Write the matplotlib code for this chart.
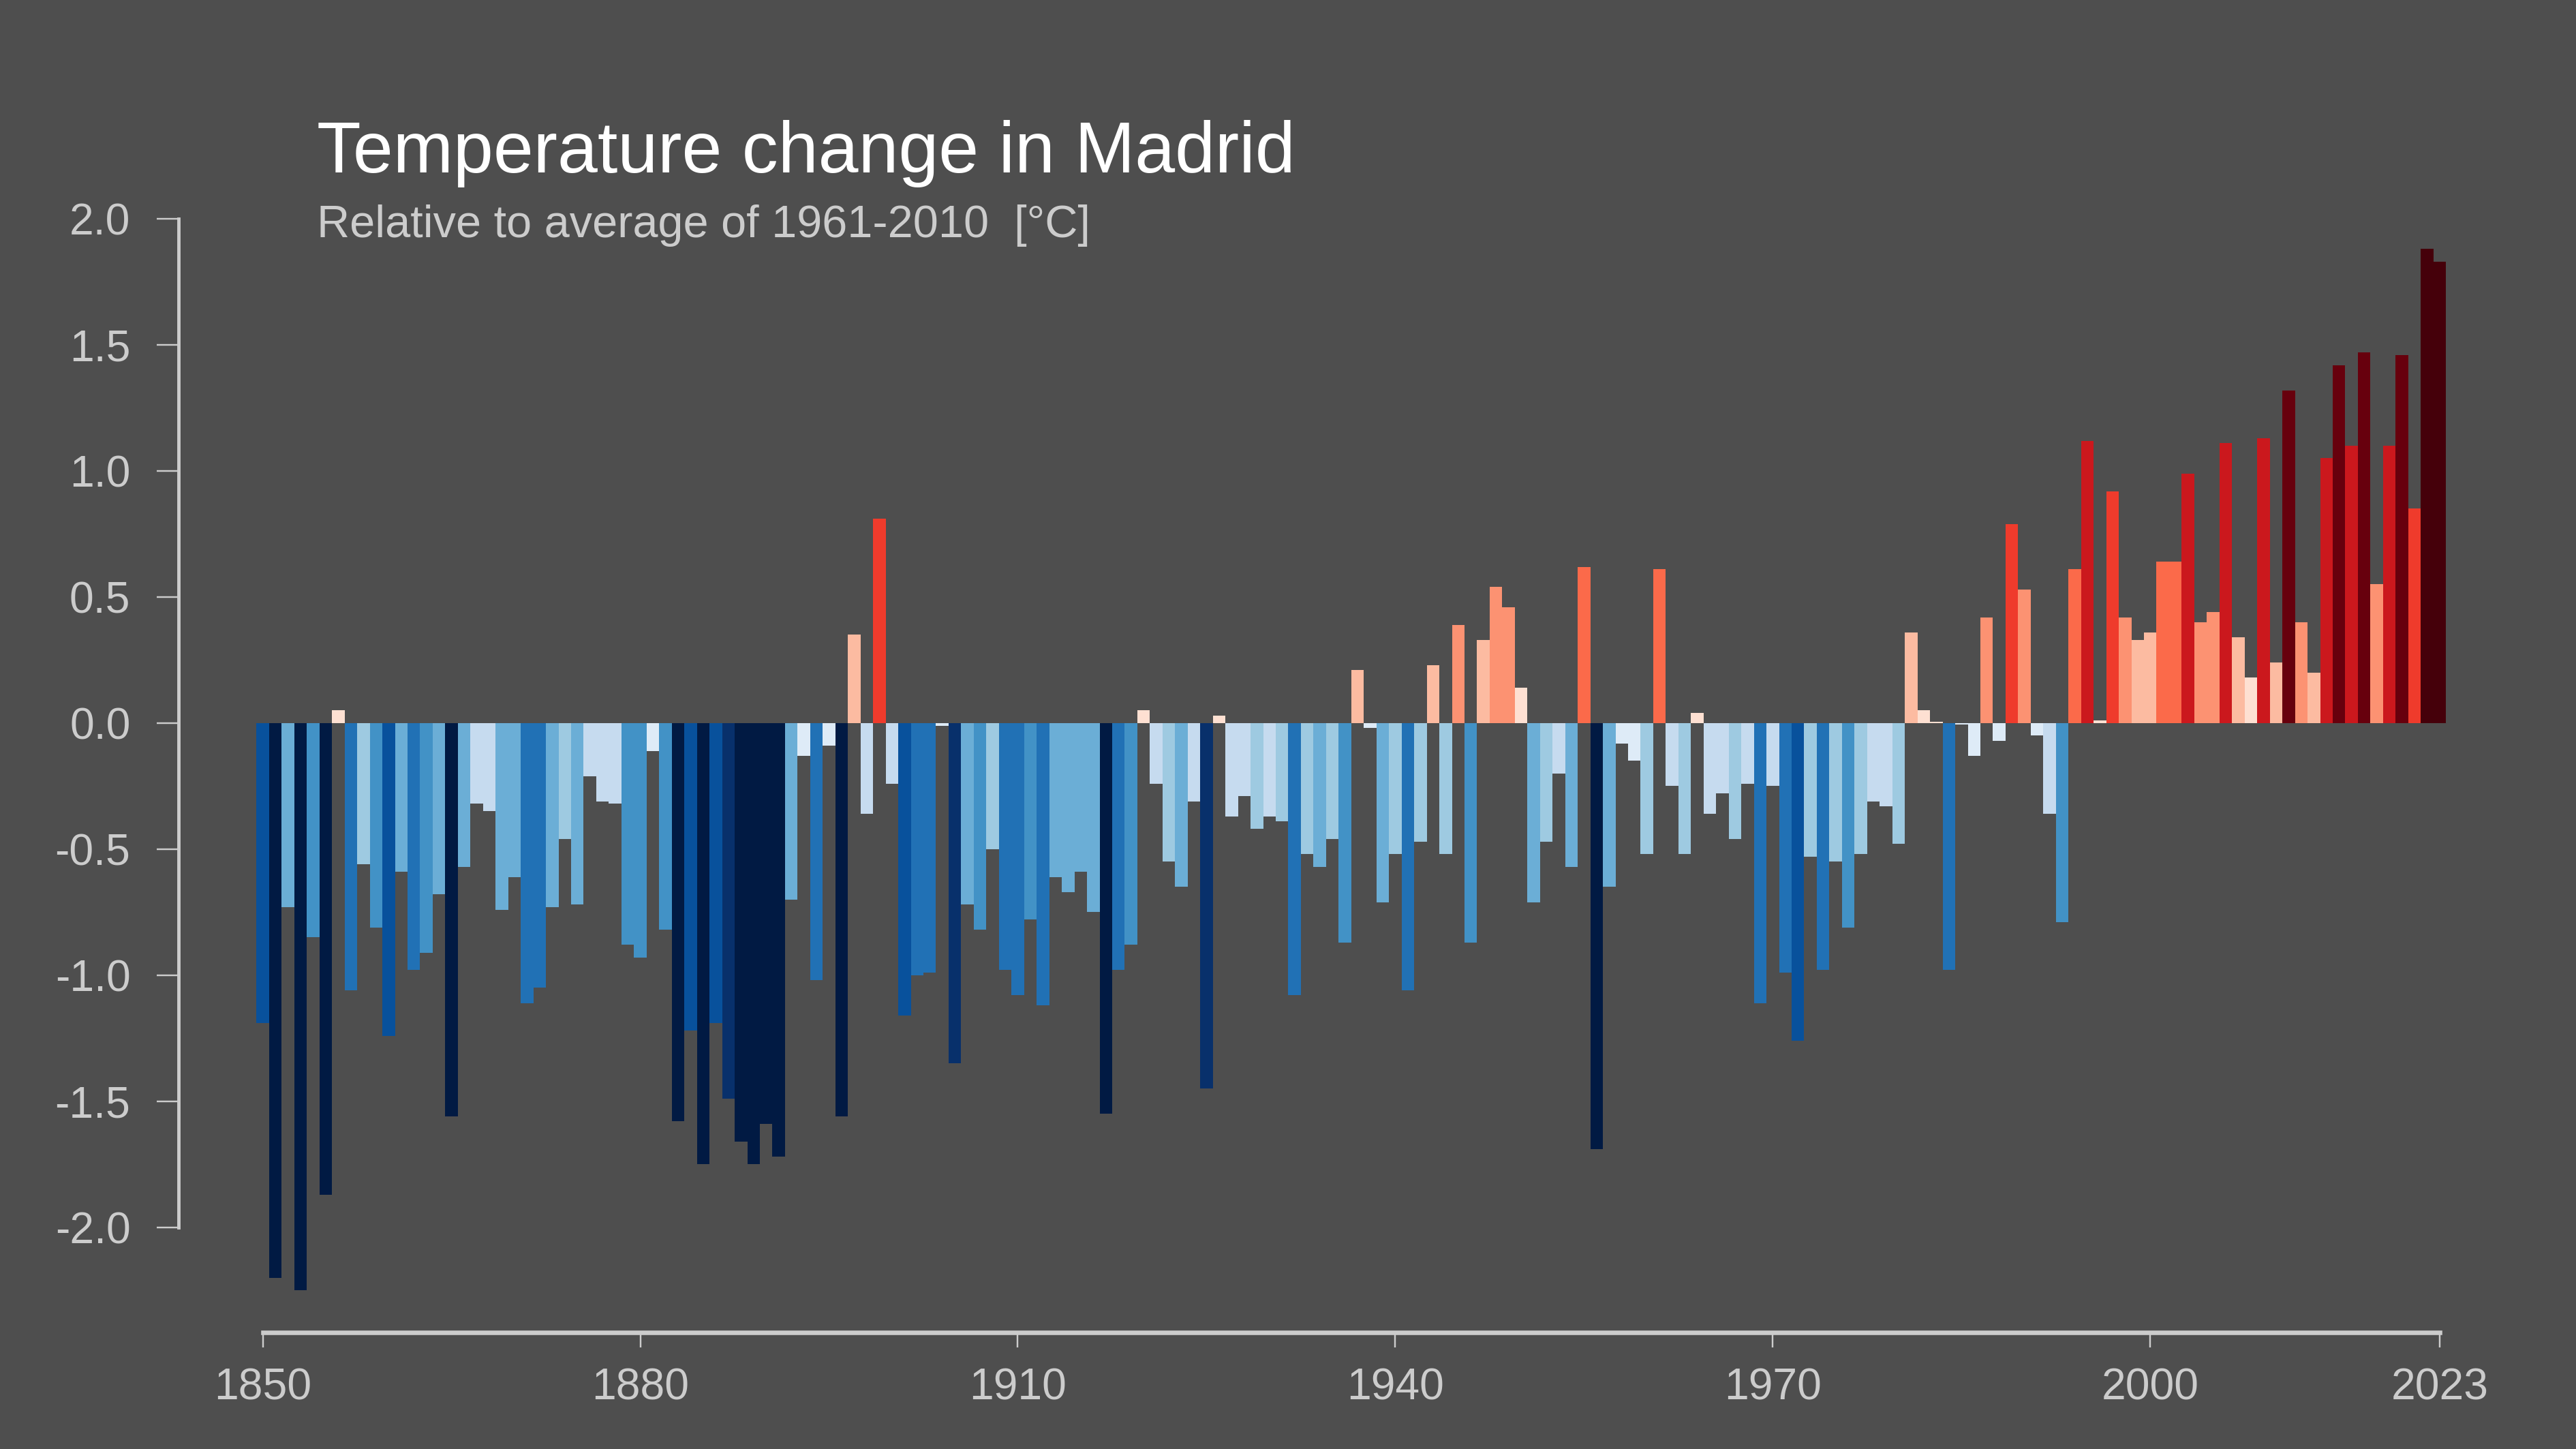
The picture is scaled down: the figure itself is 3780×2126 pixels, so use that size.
import numpy as np
import matplotlib.pyplot as plt

plt.rcParams['font.family'] = ['Liberation Sans', 'DejaVu Sans']
plt.rcParams['axes.unicode_minus'] = False

years = np.arange(1850, 2024)
anomaly = [
    -1.19, -2.20, -0.73, -2.25, -0.85, -1.87, 0.05, -1.06, -0.56, -0.81,
    -1.24, -0.59, -0.98, -0.91, -0.68, -1.56, -0.57, -0.32, -0.35, -0.74,
    -0.61, -1.11, -1.05, -0.73, -0.46, -0.72, -0.21, -0.31, -0.32, -0.88,
    -0.93, -0.11, -0.82, -1.58, -1.22, -1.75, -1.19, -1.49, -1.66, -1.75,
    -1.59, -1.72, -0.70, -0.13, -1.02, -0.09, -1.56, 0.35, -0.36, 0.81,
    -0.24, -1.16, -1.00, -0.99, -0.01, -1.35, -0.72, -0.82, -0.50, -0.98,
    -1.08, -0.78, -1.12, -0.61, -0.67, -0.59, -0.75, -1.55, -0.98, -0.88,
    0.05, -0.24, -0.55, -0.65, -0.31, -1.45, 0.03, -0.37, -0.29, -0.42,
    -0.37, -0.39, -1.08, -0.52, -0.57, -0.46, -0.87, 0.21, -0.02, -0.71,
    -0.52, -1.06, -0.47, 0.23, -0.52, 0.39, -0.87, 0.33, 0.54, 0.46,
    0.14, -0.71, -0.47, -0.20, -0.57, 0.62, -1.69, -0.65, -0.08, -0.15,
    -0.52, 0.61, -0.25, -0.52, 0.04, -0.36, -0.28, -0.46, -0.24, -1.11,
    -0.25, -0.99, -1.26, -0.53, -0.98, -0.55, -0.81, -0.52, -0.31, -0.33,
    -0.48, 0.36, 0.05, 0.005, -0.98, -0.005, -0.13, 0.42, -0.07, 0.79,
    0.53, -0.05, -0.36, -0.79, 0.61, 1.12, 0.01, 0.92, 0.42, 0.33,
    0.36, 0.64, 0.64, 0.99, 0.40, 0.44, 1.11, 0.34, 0.18, 1.13,
    0.24, 1.32, 0.40, 0.20, 1.05, 1.42, 1.10, 1.47, 0.55, 1.10,
    1.46, 0.85, 1.88, 1.83,
]
xtick_years = [1850, 1880, 1910, 1940, 1970, 2000, 2023]
yticks = np.arange(-2.0, 2.01, 0.5)

title = 'Temperature change in Madrid'
subtitle = 'Relative to average of 1961-2010  [°C]'

# stripe-style colour classes
blues = ['#deebf7', '#c6dbef', '#9ecae1', '#6baed6', '#4292c6',
         '#2171b5', '#08519c', '#08306b', '#011a43']
reds = ['#fee0d2', '#fcbba1', '#fc9272', '#fb6a4a', '#ef3b2c',
        '#cb181d', '#a50f15', '#67000d', '#45000a']
edges = [0.19, 0.38, 0.565, 0.765, 0.95, 1.14, 1.31, 1.51]

vals = np.array(anomaly)
idx = np.searchsorted(edges, np.abs(vals))
colors = [reds[i] if v >= 0 else blues[i] for v, i in zip(vals, idx)]

bg = '#4e4e4e'
fg = '#cccccc'

fig = plt.figure(figsize=(15.12, 8.504), dpi=250, facecolor=bg)
ax = fig.add_axes([0.0693, 0.0804, 0.950 - 0.0693, 0.849 - 0.0804])
ax.set_facecolor(bg)

ax.bar(years, vals, width=1.0, color=colors, linewidth=0)

ax.set_xlim(1843.3, 2023.6)
ax.set_ylim(-2.417, 2.0)

for s in ['top', 'right']:
    ax.spines[s].set_visible(False)
ax.spines['left'].set_bounds(-2.0, 2.0)
ax.spines['bottom'].set_bounds(1850, 2023)
ax.spines['left'].set_color(fg)
ax.spines['bottom'].set_color(fg)
ax.spines['left'].set_linewidth(1.4)
ax.spines['bottom'].set_linewidth(1.9)

ax.set_xticks(xtick_years)
ax.set_xticklabels([str(y) for y in xtick_years])
ax.set_yticks(yticks)
ax.set_yticklabels([f'{t:.1f}' for t in yticks])
ax.tick_params(axis='x', colors=fg, labelsize=18.5, length=6.3, width=0.7, pad=8.5)
ax.tick_params(axis='y', colors=fg, labelsize=18.5, length=9.3, width=0.7, pad=11)

fig.text(0.1231, 0.881, title, color='white', fontsize=30.5, ha='left', va='baseline')
fig.text(0.1231, 0.8365, subtitle, color=fg, fontsize=19.2, ha='left', va='baseline')

fig.savefig('out.png', dpi=250, facecolor=bg)
